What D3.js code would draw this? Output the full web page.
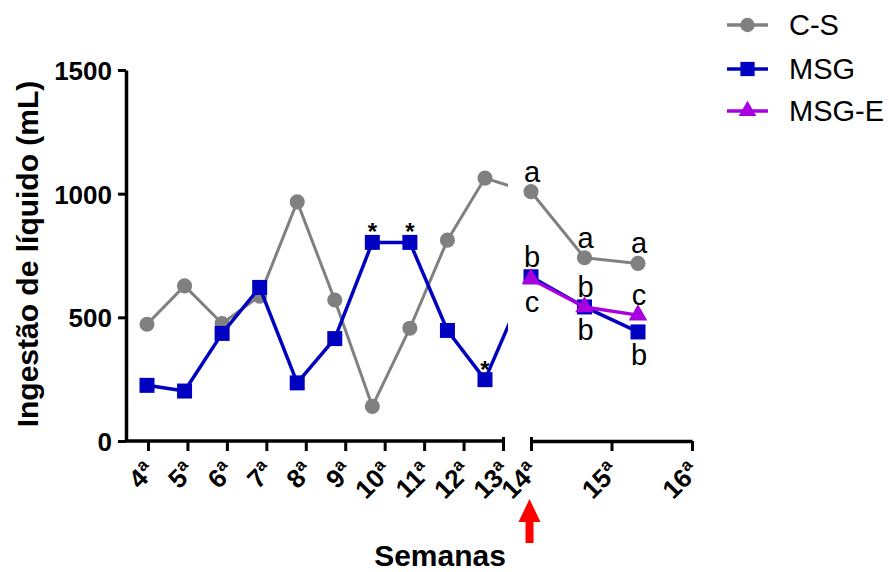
<!DOCTYPE html>
<html><head><meta charset="utf-8">
<script src="https://cdn.jsdelivr.net/npm/d3@7"></script>
<style>
body{margin:0;background:#fff}
svg{display:block;font-family:"Liberation Sans",Arial,Helvetica,sans-serif}
</style></head><body>
<svg id="chart" width="889" height="572"></svg>
<script>
// Semanas do primeiro segmento (4ª–13ª) e do segundo (14ª–16ª)
const ticksBefore = ["4","5","6","7","8","9","10","11","12","13"];
const ticksAfter = ["14","15","16"];
const yTicks = [0, 500, 1000, 1500];

// Ingestão (mL) no primeiro segmento; o último valor (14ª) fica cortado na quebra do eixo
const weeksBefore = [4,5,6,7,8,9,10,11,12,13,14];
const csBefore  = [472, 627, 475, 586, 967, 570, 140, 456, 812, 1063, 1015];
const msgBefore = [225, 202, 435, 621, 235, 414, 803, 803, 447, 248, 600];

// Segundo segmento
const weeksAfter = [14, 15, 16];
const csAfter   = [1008, 741, 718];
const msgAfter  = [664, 542, 441];
const msgeAfter = [655, 542, 509];

// Semanas com diferença significativa (*) no grupo MSG
const starWeeks = [10, 11, 13];

// Letras de comparação estatística
const lettersCS   = ["a", "a", "a"];
const lettersMSG  = ["b", "b", "b"];
const placeMSG    = ["above", "below", "below"];
const lettersMSGE = ["c", "b", "c"];
const placeMSGE   = ["below", "above", "above"];

const seriesNames = ["C-S", "MSG", "MSG-E"];
const colors = {"C-S": "#808080", "MSG": "#0000C0", "MSG-E": "#A800E0"};
const symbols = {"C-S": d3.symbolCircle, "MSG": d3.symbolSquare, "MSG-E": d3.symbolTriangle};
const symSize = {"C-S": 180, "MSG": 225, "MSG-E": 150};

const svg = d3.select("#chart");
const axisX0 = 126;
const FONT = "Liberation Sans, Arial, sans-serif";

const y = d3.scaleLinear().domain([0, 1500]).range([441, 70]);
const xLine = d3.scaleLinear().domain([4, 13]).range([147, 485]);
const xAfter = d3.scaleLinear().domain([14, 16]).range([531, 638]);
const xTickBefore = d3.scalePoint().domain(ticksBefore).range([148, 503]);
const xTickAfter = d3.scalePoint().domain(ticksAfter).range([531, 692]);

// ---- Eixo Y ----
const yAxis = svg.append("g").attr("transform", `translate(${axisX0},0)`)
  .call(d3.axisLeft(y).tickValues(yTicks).tickFormat(d3.format("d"))
    .tickSize(8).tickSizeOuter(0).tickPadding(6));
yAxis.select(".domain").attr("stroke", "#000").attr("stroke-width", 3.5);
yAxis.selectAll(".tick line").attr("stroke", "#000").attr("stroke-width", 3);
yAxis.selectAll(".tick text").attr("fill", "#000").attr("dy", "0.36em")
  .style("font-size", "26px").style("font-weight", "bold").style("font-family", FONT);

// ---- Eixos X (dois segmentos) ----
function styleXAxis(g, labels, firstEndBar, lastEndBar) {
  g.selectAll(".tick line").attr("stroke", "#000").attr("stroke-width", 3)
    .attr("y1", (d, i) => ((i === 0 && firstEndBar) || (i === labels.length - 1 && lastEndBar)) ? -4 : 0);
  g.selectAll(".tick text").each(function(d) {
    const t = d3.select(this);
    t.text(null)
      .attr("y", null).attr("dy", null)
      .attr("text-anchor", "end")
      .attr("fill", "#000")
      .style("font-family", FONT)
      .style("font-weight", "bold")
      .style("font-size", "26px")
      .attr("transform", "translate(8,32) rotate(-45)");
    t.append("tspan").style("font-size", "26px").text(d);
    t.append("tspan").style("font-size", "17px").attr("dy", -10).text("a");
  });
}

const xAxisA = svg.append("g").attr("transform", `translate(0,${y(0)})`)
  .call(d3.axisBottom(xTickBefore).tickSize(10).tickSizeOuter(0));
xAxisA.select(".domain").remove();
xAxisA.append("line").attr("x1", axisX0).attr("x2", xTickBefore(ticksBefore[ticksBefore.length - 1]))
  .attr("stroke", "#000").attr("stroke-width", 3.5);
styleXAxis(xAxisA, ticksBefore, false, true);

const xAxisB = svg.append("g").attr("transform", `translate(0,${y(0)})`)
  .call(d3.axisBottom(xTickAfter).tickSize(10).tickSizeOuter(0));
xAxisB.select(".domain").attr("stroke", "#000").attr("stroke-width", 3.5);
styleXAxis(xAxisB, ticksAfter, true, false);

// ---- Recorte do primeiro segmento na quebra ----
svg.append("defs").append("clipPath").attr("id", "clipBefore")
  .append("rect").attr("x", axisX0).attr("y", 0).attr("width", 508 - axisX0).attr("height", 572);

// ---- Séries ----
function drawSeries(parent, xs, vals, xScale, name, width) {
  const pts = xs.map((w, i) => [xScale(w), y(vals[i])]);
  parent.append("path").attr("d", d3.line()(pts))
    .attr("fill", "none").attr("stroke", colors[name]).attr("stroke-width", width)
    .attr("stroke-linejoin", "round");
  parent.selectAll(null).data(pts).join("path")
    .attr("transform", p => `translate(${p[0]},${p[1]})`)
    .attr("d", d3.symbol().type(symbols[name]).size(symSize[name]))
    .attr("fill", colors[name]);
}

const gBefore = svg.append("g").attr("clip-path", "url(#clipBefore)");
drawSeries(gBefore, weeksBefore, csBefore, xLine, "C-S", 3);
drawSeries(gBefore, weeksBefore, msgBefore, xLine, "MSG", 3.5);

const gAfter = svg.append("g");
drawSeries(gAfter, weeksAfter, csAfter, xAfter, "C-S", 3);
drawSeries(gAfter, weeksAfter, msgAfter, xAfter, "MSG", 3.5);
drawSeries(gAfter, weeksAfter, msgeAfter, xAfter, "MSG-E", 3.5);

// ---- Asteriscos ----
svg.append("g").selectAll("text").data(starWeeks).join("text")
  .attr("x", w => xLine(w))
  .attr("y", w => y(msgBefore[weeksBefore.indexOf(w)]) - 2)
  .attr("text-anchor", "middle").style("font-size", "24px").style("font-weight", "bold")
  .text("*");

// ---- Letras ----
const letterG = svg.append("g").style("font-size", "29px").attr("text-anchor", "middle").attr("fill", "#000");
function drawLetters(vals, letters, places) {
  letters.forEach((l, i) => {
    const above = places[i] === "above";
    letterG.append("text")
      .attr("x", xAfter(weeksAfter[i]) + 1)
      .attr("y", y(vals[i]) + (above ? -10 : 33))
      .text(l);
  });
}
drawLetters(csAfter, lettersCS, ["above", "above", "above"]);
drawLetters(msgAfter, lettersMSG, placeMSG);
drawLetters(msgeAfter, lettersMSGE, placeMSGE);

// ---- Seta vermelha (início do tratamento) ----
const ax = xTickAfter("14") - 1.5;
svg.append("path")
  .attr("d", `M${ax},499 L${ax + 11},522 L${ax + 4},522 L${ax + 4},543 L${ax - 4},543 L${ax - 4},522 L${ax - 11},522 Z`)
  .attr("fill", "#FF0000");

// ---- Títulos ----
svg.append("text").attr("x", 440).attr("y", 566).attr("text-anchor", "middle")
  .style("font-size", "30px").style("font-weight", "bold").text("Semanas");
svg.append("text").attr("transform", "translate(38,254) rotate(-90)").attr("text-anchor", "middle")
  .style("font-size", "30px").style("font-weight", "bold").text("Ingestão de líquido (mL)");

// ---- Legenda ----
const legend = svg.append("g").attr("transform", "translate(727,0)");
const legendY = [25, 69, 111];
seriesNames.forEach((name, i) => {
  const g = legend.append("g").attr("transform", `translate(0,${legendY[i]})`);
  g.append("line").attr("x1", 0).attr("x2", 41).attr("stroke", colors[name]).attr("stroke-width", 3.5);
  g.append("path").attr("transform", "translate(20.5,0)")
    .attr("d", d3.symbol().type(symbols[name]).size(symSize[name] * 0.9)).attr("fill", colors[name]);
  g.append("text").attr("x", 62).attr("y", 10).style("font-size", "29px").attr("fill", "#000").text(name);
});
</script>
</body></html>
